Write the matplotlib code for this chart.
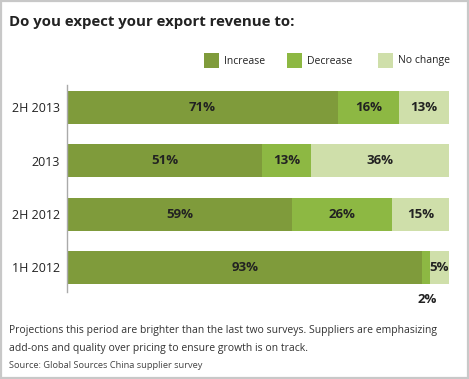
import matplotlib.pyplot as plt
from matplotlib.patches import Rectangle

# data
categories = ["2H 2013", "2013", "2H 2012", "1H 2012"]
increase = [71, 51, 59, 93]
decrease = [16, 13, 26, 2]
no_change = [13, 36, 15, 5]
series_names = ["Increase", "Decrease", "No change"]

colors = ["#7f9b3b", "#8db843", "#cfdfaa"]
txt_color = "#222222"
plt.rcParams['font.family'] = ['Open Sans', 'DejaVu Sans']

W, H = 469, 379
fig = plt.figure(figsize=(W / 100, H / 100), dpi=100)

# figure border
fig.patches.append(Rectangle((0.002, 0.003), 0.995, 0.994, transform=fig.transFigure,
                             fill=False, edgecolor="#c8c8c8", linewidth=1.6))

ax = fig.add_axes([67 / W, 1 - 292 / H, (449 - 67) / W, (292 - 85) / H])
ypos = list(range(len(categories)))
left = [0] * len(categories)
for vals, col in zip([increase, decrease, no_change], colors):
    ax.barh(ypos, vals, left=left, height=0.62, color=col, edgecolor="none")
    for i, v in enumerate(vals):
        cx = left[i] + v / 2
        if v < 4:
            # too small, put label under the bar
            ax.text(cx + 0.3, i + 0.6, f"{v}%", ha="center", va="center",
                    fontsize=9.5, fontweight="bold", color=txt_color)
        else:
            ax.text(cx, i, f"{v}%", ha="center", va="center",
                    fontsize=9.5, fontweight="bold", color=txt_color)
    left = [l + v for l, v in zip(left, vals)]

ax.set_xlim(0, 100)
ax.set_ylim(3.46, -0.42)
ax.set_yticks(ypos)
ax.set_yticklabels(categories, fontsize=9, color=txt_color)
ax.tick_params(axis="y", length=0, pad=5)
ax.set_xticks([])
for s in ["top", "right", "bottom"]:
    ax.spines[s].set_visible(False)
ax.spines["left"].set_color("#aaaaaa")
ax.spines["left"].set_linewidth(1)

# title
fig.text(9 / W, 1 - 22 / H, "Do you expect your export revenue to:", fontsize=10.8,
         fontweight="bold", color=txt_color, va="center", ha="left")

# legend
leg_x = [204, 287, 378]
for x, name, col in zip(leg_x, series_names, colors):
    fig.patches.append(Rectangle((x / W, 1 - 68 / H), 15 / W, 15 / H,
                                 transform=fig.transFigure, facecolor=col, edgecolor="none"))
    fig.text((x + 20) / W, 1 - 61 / H, name, fontsize=7.5, color=txt_color,
             va="center", ha="left")

# footer
fig.text(9 / W, 1 - 331 / H, "Projections this period are brighter than the last two surveys. Suppliers are emphasizing",
         fontsize=7.5, color="#333333", va="center", ha="left")
fig.text(9 / W, 1 - 348 / H, "add-ons and quality over pricing to ensure growth is on track.",
         fontsize=7.5, color="#333333", va="center", ha="left")
fig.text(9 / W, 1 - 365 / H, "Source: Global Sources China supplier survey",
         fontsize=6.7, color="#444444", va="center", ha="left")

plt.savefig("out.png", dpi=100)
